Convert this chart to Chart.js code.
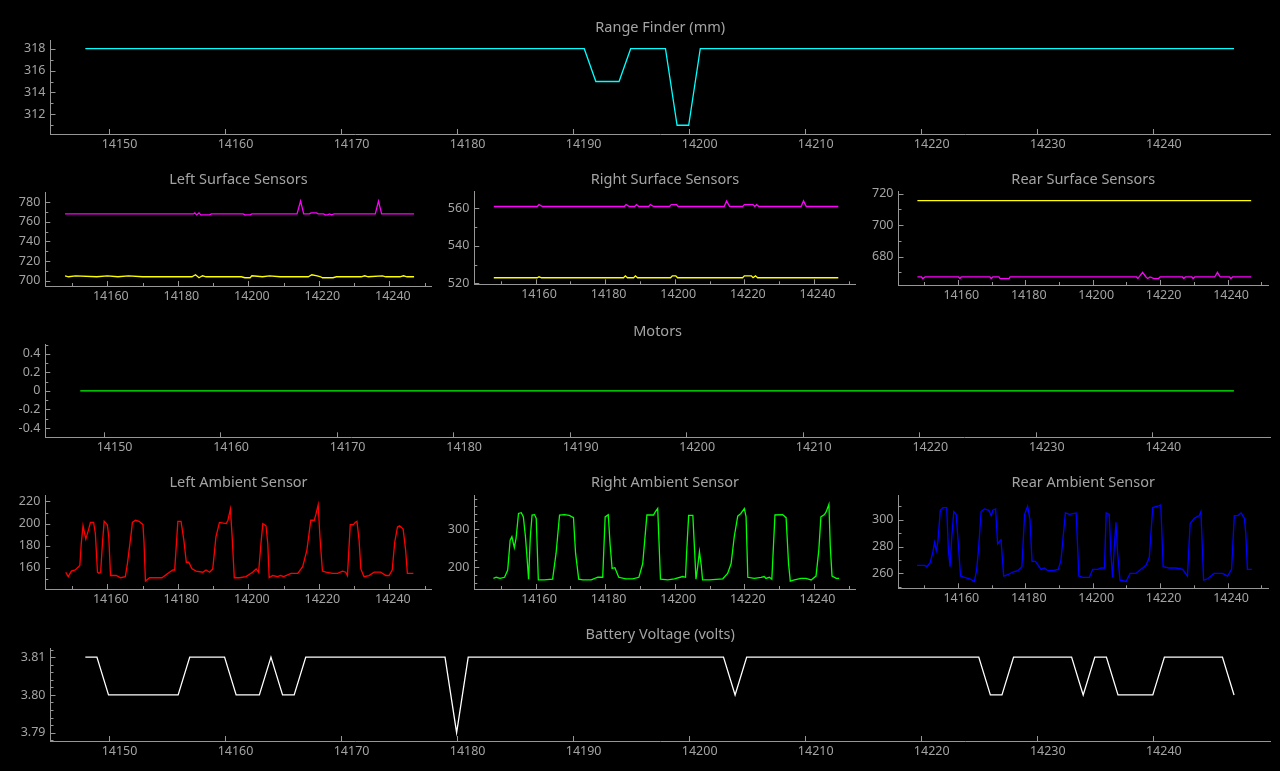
<!DOCTYPE html>
<html>
<head>
<meta charset="utf-8">
<title>Robot sensor dashboard</title>
<script src="https://cdn.jsdelivr.net/npm/chart.js@4.4.1/dist/chart.umd.min.js"></script>
<style>
  html, body { margin: 0; padding: 0; background: #000; width: 1280px; height: 771px; overflow: hidden; }
  #board { position: relative; width: 1280px; height: 771px; }
  #board canvas { position: absolute; }
  .plot-title {
    position: absolute;
    transform: translate(-50%, -50%);
    font: 14.5px "Noto Sans", sans-serif;
    color: #a3a3a3;
    white-space: nowrap;
  }
</style>
</head>
<body>
<div id="board"></div>
<script>
// tick labels
const wideXTicks = [14150, 14160, 14170, 14180, 14190, 14200, 14210, 14220, 14230, 14240];
const narrowXTicks = [14160, 14180, 14200, 14220, 14240];
const rangeYTicks = [312, 314, 316, 318];
const leftSurfaceYTicks = [700, 720, 740, 760, 780];
const rightSurfaceYTicks = [520, 540, 560];
const rearSurfaceYTicks = [680, 700, 720];
const motorYTicks = [-0.4, -0.2, 0, 0.2, 0.4];
const leftAmbientYTicks = [160, 180, 200, 220];
const rightAmbientYTicks = [200, 300];
const rearAmbientYTicks = [260, 280, 300];
const batteryYTicks = [3.79, 3.80, 3.81];

// series: [time (s), value]
const rangeFinderMm = [
  [14148, 318], [14191, 318], [14192, 315], [14194, 315], [14195, 318],
  [14198, 318], [14199, 311], [14200, 311], [14201, 318], [14247, 318]
];

const leftSurfaceA = [
  [14148, 768], [14184.4, 768], [14184.8, 769], [14185.3, 767], [14186, 769], [14186.5, 767],
  [14189, 767], [14189.5, 768], [14198.5, 768], [14199, 767], [14200.5, 767], [14201, 768],
  [14213.8, 768], [14214.8, 781], [14215.7, 768], [14217.3, 768], [14217.8, 769], [14219.3, 769],
  [14219.8, 768], [14221.3, 768], [14221.8, 767], [14222.5, 767], [14223, 768], [14223.6, 767],
  [14224.3, 768], [14236, 768], [14236.9, 781], [14237.8, 768], [14247, 768]
];
const leftSurfaceB = [
  [14148, 705], [14149, 704], [14151, 705], [14157, 704], [14160, 705], [14163, 704],
  [14166, 705], [14170, 704], [14184, 704], [14185, 706], [14186, 703], [14187, 705],
  [14188, 704], [14198, 704], [14199, 703], [14200.5, 703], [14201, 705], [14204, 704],
  [14206, 705], [14209, 704], [14217, 704], [14218, 706], [14219.5, 705], [14220.5, 704],
  [14221, 703], [14224, 703], [14225, 704], [14232, 704], [14233, 705], [14234, 704],
  [14238, 705], [14239, 704], [14243, 704], [14244, 705], [14245, 704], [14247, 704]
];

const rightSurfaceA = [
  [14148, 561], [14160.5, 561], [14161, 562], [14162, 561], [14185.5, 561], [14186, 562],
  [14187, 561], [14188.5, 561], [14189, 562], [14189.7, 561], [14192.5, 561], [14193, 562],
  [14194, 561], [14198.5, 561], [14199, 562], [14200.5, 562], [14201, 561], [14214.2, 561],
  [14214.9, 564], [14215.8, 561], [14219.5, 561], [14220, 562], [14222.5, 562], [14223, 561],
  [14223.5, 562], [14224.2, 561], [14236.3, 561], [14237, 564], [14237.8, 561], [14247, 561]
];
const rightSurfaceB = [
  [14148, 523], [14160.5, 523], [14161, 523.5], [14161.7, 523], [14185.3, 523], [14185.8, 524],
  [14186.4, 523], [14188.2, 523], [14188.7, 524], [14189.3, 523], [14198.8, 523], [14199.3, 524],
  [14200.3, 524], [14200.8, 523], [14219.5, 523], [14220, 524], [14222, 524], [14222.5, 523],
  [14223.2, 524], [14223.8, 523], [14247, 523]
];

const rearSurfaceA = [[14148, 715.5], [14247, 715.5]];
const rearSurfaceB = [
  [14148, 667], [14149.2, 667], [14149.6, 666], [14150.3, 667], [14160.2, 667], [14160.6, 666],
  [14161, 667], [14169.5, 667], [14169.9, 666], [14170.4, 667], [14172.2, 667], [14172.5, 666],
  [14175.2, 666], [14175.5, 667], [14213, 667], [14213.4, 666], [14214.8, 670], [14215.8, 667],
  [14216.3, 666], [14217, 667], [14218.2, 666], [14219.5, 666], [14220, 667], [14226.6, 667],
  [14227, 666], [14227.5, 667], [14229.4, 667], [14229.8, 666], [14230.3, 667], [14236.2, 667],
  [14237, 670], [14237.8, 667], [14240.6, 667], [14241, 666], [14241.5, 667], [14247, 667]
];

const motorOutput = [[14148, 0], [14247, 0]];

const leftAmbient = [
  [14148.2, 156], [14148.9, 152], [14149.8, 157], [14150.9, 158], [14152.2, 162], [14152.6, 182],
  [14153.1, 198], [14153.9, 186], [14154.7, 195], [14155.2, 201], [14156.1, 201], [14156.6, 191],
  [14157.2, 156], [14157.6, 155], [14158.1, 156], [14158.6, 182], [14159.1, 202], [14160.0, 199],
  [14160.4, 188], [14160.9, 153], [14162.5, 153], [14163.8, 151], [14165.1, 152], [14165.7, 164],
  [14166.8, 192], [14167.1, 201], [14168.0, 203], [14169.0, 202], [14170.1, 199], [14170.4, 183],
  [14170.8, 148], [14172.0, 151], [14175.5, 151], [14177.2, 155], [14178.6, 158], [14179.1, 158],
  [14180.0, 202], [14180.9, 202], [14181.7, 185], [14182.4, 165], [14183.1, 165], [14184.0, 159],
  [14185.2, 157], [14187.1, 156], [14188.0, 158], [14189.0, 156], [14189.9, 159], [14190.8, 188],
  [14191.8, 201], [14193.7, 200], [14194.2, 203], [14194.9, 213], [14195.4, 188], [14196.0, 151],
  [14197.5, 151], [14199.3, 152], [14201.2, 156], [14202.2, 159], [14202.9, 156], [14203.6, 183],
  [14204.1, 200], [14205.0, 198], [14205.5, 182], [14205.9, 151], [14206.9, 153], [14208.3, 152],
  [14209.1, 153], [14210.0, 152], [14212.1, 155], [14214.0, 155], [14215.4, 161], [14216.6, 176],
  [14217.7, 203], [14218.7, 203], [14219.2, 209], [14219.8, 217], [14220.3, 188], [14221.0, 157],
  [14222.0, 156], [14223.9, 155], [14225.3, 155], [14226.7, 157], [14227.6, 156], [14228.1, 153],
  [14228.9, 199], [14229.8, 199], [14230.3, 201], [14230.8, 202], [14231.4, 185], [14231.9, 159],
  [14232.8, 152], [14234.2, 153], [14235.7, 156], [14237.5, 156], [14239.0, 153], [14239.9, 153],
  [14240.8, 158], [14241.5, 183], [14242.3, 197], [14242.9, 198], [14243.9, 195], [14244.6, 176],
  [14245.1, 155], [14246.8, 155]
];

const rightAmbient = [
  [14147.9, 171], [14148.7, 174], [14149.8, 171], [14151.1, 174], [14152.0, 193], [14152.7, 271],
  [14153.2, 280], [14153.9, 252], [14154.4, 276], [14155.1, 341], [14155.9, 343], [14156.5, 332],
  [14157.1, 280], [14157.5, 232], [14158.0, 169], [14158.5, 280], [14159.0, 337], [14159.7, 338],
  [14160.2, 328], [14160.8, 167], [14162.5, 167], [14164.9, 169], [14165.9, 237], [14166.9, 337],
  [14168.3, 338], [14169.7, 336], [14170.9, 330], [14171.5, 237], [14172.4, 169], [14173.6, 167],
  [14176.0, 167], [14177.9, 174], [14179.3, 174], [14180.0, 332], [14180.9, 338], [14181.4, 263],
  [14182.0, 197], [14182.8, 199], [14183.9, 174], [14186.0, 170], [14187.9, 170], [14189.7, 174],
  [14190.8, 210], [14192.0, 337], [14193.9, 337], [14194.4, 345], [14195.1, 354], [14195.9, 169],
  [14198.0, 167], [14199.9, 170], [14202.3, 176], [14203.1, 174], [14203.4, 237], [14204.0, 336],
  [14205.2, 336], [14205.7, 245], [14206.1, 169], [14206.6, 202], [14207.1, 241], [14207.6, 206],
  [14208.0, 167], [14210.0, 167], [14213.8, 170], [14215.2, 184], [14216.2, 210], [14217.1, 280],
  [14218.1, 334], [14219.0, 341], [14220.0, 354], [14220.5, 332], [14221.0, 174], [14222.9, 171],
  [14224.8, 174], [14225.7, 176], [14226.2, 171], [14227.2, 174], [14227.9, 169], [14228.8, 337],
  [14231.0, 338], [14232.0, 330], [14232.7, 210], [14233.2, 164], [14234.4, 167], [14236.3, 171],
  [14237.7, 171], [14239.2, 167], [14240.6, 177], [14241.4, 245], [14242.0, 332], [14243.0, 338],
  [14243.5, 345], [14244.3, 365], [14244.7, 254], [14245.2, 177], [14246.4, 171], [14247.2, 171]
];

const rearAmbient = [
  [14147.9, 266], [14150.1, 266], [14150.8, 265], [14151.8, 268], [14152.6, 276], [14153.1, 283],
  [14153.6, 277], [14154.1, 284], [14154.8, 307], [14155.6, 309], [14156.7, 309], [14157.2, 277],
  [14157.7, 265], [14158.2, 287], [14158.8, 306], [14159.5, 304], [14160.0, 287], [14160.8, 258],
  [14162.0, 257], [14163.5, 256], [14164.9, 254], [14165.6, 263], [14166.2, 280], [14166.9, 306],
  [14167.9, 308], [14169.2, 307], [14169.9, 303], [14170.4, 307], [14171.2, 308], [14171.8, 282],
  [14172.4, 284], [14172.8, 285], [14173.6, 258], [14174.8, 259], [14176.3, 261], [14177.8, 262],
  [14179.0, 265], [14179.8, 304], [14180.7, 310], [14181.4, 300], [14182.0, 269], [14183.0, 269],
  [14184.7, 263], [14185.7, 264], [14186.7, 262], [14188.1, 262], [14189.8, 263], [14190.6, 270],
  [14191.9, 305], [14193.1, 304], [14195.1, 305], [14195.9, 258], [14197.0, 257], [14199.0, 257],
  [14200.0, 263], [14201.5, 263], [14202.5, 264], [14203.5, 264], [14204.0, 305], [14204.9, 304],
  [14205.4, 275], [14205.9, 257], [14206.4, 280], [14206.9, 298], [14207.4, 275], [14208.1, 255],
  [14209.9, 254], [14211.1, 260], [14212.8, 260], [14214.3, 263], [14215.8, 266], [14216.8, 272],
  [14217.8, 309], [14219.3, 310], [14220.2, 311], [14220.9, 265], [14222.7, 264], [14224.7, 264],
  [14226.7, 263], [14228.1, 258], [14228.9, 297], [14230.1, 301], [14231.6, 303], [14232.1, 306],
  [14232.9, 255], [14234.1, 256], [14236.0, 260], [14238.5, 260], [14240.0, 258], [14241.2, 263],
  [14242.0, 303], [14243.0, 303], [14244.0, 305], [14245.0, 301], [14245.4, 290], [14245.9, 263],
  [14247.2, 263]
];

const batteryVolts = [
  [14148, 3.81], [14149, 3.81], [14150, 3.80], [14156, 3.80], [14157, 3.81], [14160, 3.81],
  [14161, 3.80], [14163, 3.80], [14164, 3.81], [14165, 3.80], [14166, 3.80], [14167, 3.81],
  [14179, 3.81], [14180, 3.79], [14181, 3.81], [14203, 3.81], [14204, 3.80], [14205, 3.81],
  [14225, 3.81], [14226, 3.80], [14227, 3.80], [14228, 3.81], [14233, 3.81], [14234, 3.80],
  [14235, 3.81], [14236, 3.81], [14237, 3.80], [14240, 3.80], [14241, 3.81], [14246, 3.81],
  [14247, 3.80]
];

const AXIS_COLOR = "#969696";
const TEXT_COLOR = "#a3a3a3";
const WIDE_X = [14145, 14250.1];
const NARROW_X = [14142.4, 14252];

const panels = [
  { title: "Range Finder (mm)", titleY: 26, box: [50.5, 40, 1270, 134], x: WIDE_X, y: [310.2, 318.75],
    xTicks: wideXTicks, yTicks: rangeYTicks, yMinor: 1, labelOffset: 11,
    series: [{ data: rangeFinderMm, color: "#00ffff" }] },
  { title: "Left Surface Sensors", titleY: 178, box: [45.3, 192, 431.7, 286], x: NARROW_X, y: [694.6, 789.8],
    xTicks: narrowXTicks, xMinor: 10, yTicks: leftSurfaceYTicks, yMinor: 10, labelOffset: 3.5,
    series: [{ data: leftSurfaceA, color: "#ff00ff" }, { data: leftSurfaceB, color: "#ffff00" }] },
  { title: "Right Surface Sensors", titleY: 178, box: [474.3, 191.7, 855.7, 284.3], x: NARROW_X, y: [519.5, 568.9],
    xTicks: narrowXTicks, xMinor: 10, yTicks: rightSurfaceYTicks, yMinor: 10, labelOffset: 3.5,
    series: [{ data: rightSurfaceA, color: "#ff00ff" }, { data: rightSurfaceB, color: "#ffff00" }] },
  { title: "Rear Surface Sensors", titleY: 178, box: [898.5, 191, 1268, 285], x: NARROW_X, y: [661.9, 721.3],
    xTicks: narrowXTicks, xMinor: 10, yTicks: rearSurfaceYTicks, yMinor: 10, labelOffset: 3.5,
    series: [{ data: rearSurfaceA, color: "#ffff00" }, { data: rearSurfaceB, color: "#ff00ff" }] },
  { title: "Motors", titleY: 330, box: [45.3, 344.3, 1270, 437.3], x: WIDE_X, y: [-0.5, 0.5],
    xTicks: wideXTicks, yTicks: motorYTicks, yMinor: 0.1, labelOffset: 11, decimals: 1,
    series: [{ data: motorOutput, color: "#00ff00" }] },
  { title: "Left Ambient Sensor", titleY: 481, box: [45.3, 495, 431.7, 589], x: NARROW_X, y: [140.8, 225.4],
    xTicks: narrowXTicks, xMinor: 10, yTicks: leftAmbientYTicks, yMinor: 10, labelOffset: 3.5,
    series: [{ data: leftAmbient, color: "#ff0000" }] },
  { title: "Right Ambient Sensor", titleY: 481, box: [474.3, 495.3, 855.7, 589], x: NARROW_X, y: [143.3, 388],
    xTicks: narrowXTicks, xMinor: 10, yTicks: rightAmbientYTicks, yMinor: 20, labelOffset: 3.5,
    series: [{ data: rightAmbient, color: "#00ff00" }] },
  { title: "Rear Ambient Sensor", titleY: 481, box: [898.5, 495, 1268, 588.3], x: NARROW_X, y: [248.9, 318],
    xTicks: narrowXTicks, xMinor: 10, yTicks: rearAmbientYTicks, yMinor: 10, labelOffset: 3.5,
    series: [{ data: rearAmbient, color: "#0000ff" }] },
  { title: "Battery Voltage (volts)", titleY: 633, box: [50.5, 648, 1270, 741], x: WIDE_X, y: [3.7878, 3.8123],
    xTicks: wideXTicks, yTicks: batteryYTicks, yMinor: 0.002, labelOffset: 11, decimals: 2,
    series: [{ data: batteryVolts, color: "#ffffff" }] }
];

// pyqtgraph-style short ticks pointing into the plot
const innerTicks = {
  id: "innerTicks",
  afterDraw(chart, args, opts) {
    const { ctx, chartArea } = chart;
    const xs = chart.scales.x;
    const ys = chart.scales.y;
    ctx.save();
    ctx.strokeStyle = AXIS_COLOR;
    ctx.lineWidth = 1;
    ctx.beginPath();

    const xTick = (v, len) => {
      const px = Math.round(xs.getPixelForValue(v)) + 0.5;
      ctx.moveTo(px, chartArea.bottom);
      ctx.lineTo(px, chartArea.bottom - len);
    };
    const yTick = (v, len) => {
      const py = Math.round(ys.getPixelForValue(v)) + 0.5;
      ctx.moveTo(chartArea.left, py);
      ctx.lineTo(chartArea.left + len, py);
    };
    const minorValues = (scale, step) => {
      const out = [];
      if (!step) {
        return out;
      }
      for (let k = Math.ceil(scale.min / step - 1e-9); k * step <= scale.max + 1e-12; k++) {
        out.push(k * step);
      }
      return out;
    };

    minorValues(xs, opts.xMinor).forEach((v) => xTick(v, 3));
    minorValues(ys, opts.yMinor).forEach((v) => yTick(v, 3));
    xs.ticks.forEach((t) => xTick(t.value, 5));
    ys.ticks.forEach((t) => yTick(t.value, 5));
    ctx.stroke();
    ctx.restore();
  }
};

Chart.defaults.font.family = "'Noto Sans', 'Open Sans', sans-serif";
Chart.defaults.font.size = 12.5;
Chart.defaults.color = TEXT_COLOR;

function formatTick(value, decimals) {
  if (decimals === undefined) {
    return String(value);
  }
  if (decimals === 1) {
    return String(Math.round(value * 10) / 10);
  }
  return value.toFixed(decimals);
}

function buildPanel(panel) {
  const board = document.getElementById("board");
  const [left, top, right, bottom] = panel.box;

  const canvasLeft = Math.floor(left - 50);
  const canvasTop = Math.floor(top - 12);
  const canvasRight = Math.min(1280, Math.ceil(right + 8));
  const canvasBottom = Math.ceil(bottom + 24);
  const yAxisWidth = left - canvasLeft;
  const xAxisHeight = canvasBottom - bottom;

  const canvas = document.createElement("canvas");
  canvas.width = canvasRight - canvasLeft;
  canvas.height = canvasBottom - canvasTop;
  canvas.style.left = canvasLeft + "px";
  canvas.style.top = canvasTop + "px";
  canvas.style.width = canvas.width + "px";
  canvas.style.height = canvas.height + "px";
  board.appendChild(canvas);

  const heading = document.createElement("div");
  heading.className = "plot-title";
  heading.textContent = panel.title;
  heading.style.left = ((left + right) / 2) + "px";
  heading.style.top = (panel.titleY - 0.5) + "px";
  board.appendChild(heading);

  new Chart(canvas, {
    type: "line",
    data: {
      datasets: panel.series.map((s) => ({
        data: s.data.map(([t, v]) => ({ x: t, y: v })),
        borderColor: s.color,
        borderWidth: 1.3,
        pointRadius: 0,
        tension: 0,
        fill: false
      }))
    },
    options: {
      responsive: false,
      animation: false,
      devicePixelRatio: 1,
      events: [],
      layout: {
        padding: { top: top - canvasTop, right: canvasRight - right, left: 0, bottom: 0 }
      },
      plugins: {
        legend: { display: false },
        tooltip: { enabled: false },
        innerTicks: { xMinor: panel.xMinor, yMinor: panel.yMinor }
      },
      scales: {
        x: {
          type: "linear",
          min: panel.x[0],
          max: panel.x[1],
          afterBuildTicks: (scale) => {
            scale.ticks = panel.xTicks.map((v) => ({ value: v }));
          },
          afterFit: (scale) => {
            scale.height = xAxisHeight;
          },
          grid: { display: false, drawTicks: false },
          border: { display: true, color: AXIS_COLOR, width: 1 },
          ticks: {
            color: TEXT_COLOR,
            padding: 2.5,
            labelOffset: panel.labelOffset,
            maxRotation: 0,
            autoSkip: false,
            callback: (v) => String(v)
          }
        },
        y: {
          type: "linear",
          min: panel.y[0],
          max: panel.y[1],
          afterBuildTicks: (scale) => {
            scale.ticks = panel.yTicks.map((v) => ({ value: v }));
          },
          afterFit: (scale) => {
            scale.width = yAxisWidth;
          },
          grid: { display: false, drawTicks: false },
          border: { display: true, color: AXIS_COLOR, width: 1 },
          ticks: {
            color: TEXT_COLOR,
            padding: 5,
            autoSkip: false,
            callback: (v) => formatTick(v, panel.decimals)
          }
        }
      }
    },
    plugins: [innerTicks]
  });
}

panels.forEach(buildPanel);
</script>
</body>
</html>
